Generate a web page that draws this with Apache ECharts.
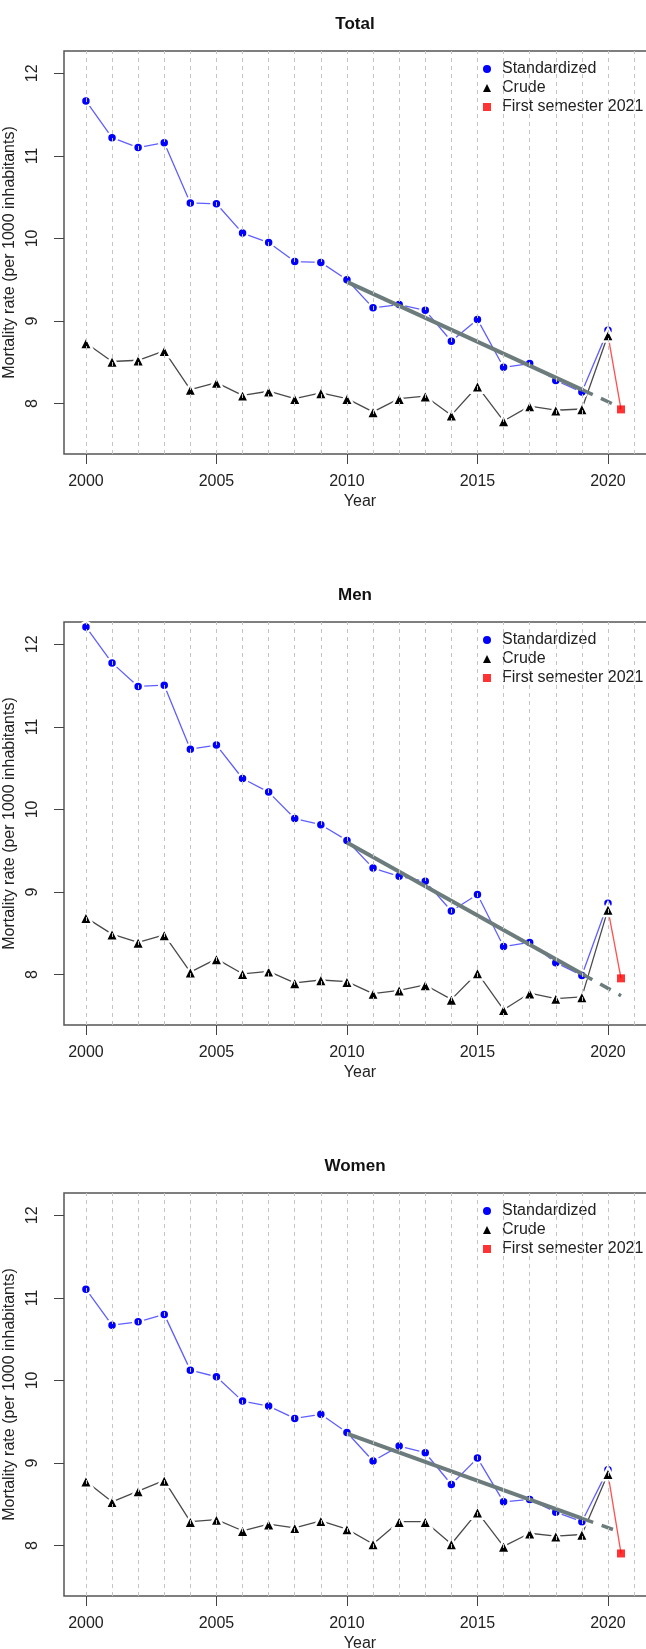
<!DOCTYPE html>
<html>
<head>
<meta charset="utf-8">
<script src="https://cdn.jsdelivr.net/npm/echarts@6/dist/echarts.min.js"></script>
<style>
  html, body { margin: 0; padding: 0; background: #fff; }
  #chart { width: 646px; height: 1649px; }
</style>
</head>
<body>
<div id="chart"></div>
<script>
// years and axis ticks
var years = [2000, 2001, 2002, 2003, 2004, 2005, 2006, 2007, 2008, 2009, 2010,
             2011, 2012, 2013, 2014, 2015, 2016, 2017, 2018, 2019, 2020];
var gridYears = [2000, 2001, 2002, 2003, 2004, 2005, 2006, 2007, 2008, 2009, 2010,
                 2011, 2012, 2013, 2014, 2015, 2016, 2017, 2018, 2019, 2020, 2021];
var xTicks = [2000, 2005, 2010, 2015, 2020];
var yTicks = [8, 9, 10, 11, 12];
var panelTitles = ['Total', 'Men', 'Women'];

// mortality rates (per 1000 inhabitants)
var totalStandardized = [11.665, 11.22, 11.10, 11.16, 10.43, 10.42, 10.065, 9.95, 9.72, 9.71, 9.50,
                         9.16, 9.20, 9.13, 8.755, 9.02, 8.44, 8.485, 8.28, 8.14, 8.89];
var totalCrude = [8.735, 8.51, 8.525, 8.64, 8.17, 8.255, 8.10, 8.15, 8.06, 8.13, 8.06,
                  7.90, 8.06, 8.09, 7.86, 8.21, 7.79, 7.97, 7.92, 7.935, 8.83];
var menStandardized = [12.21, 11.775, 11.49, 11.505, 10.73, 10.78, 10.375, 10.21, 9.89, 9.815, 9.625,
                       9.29, 9.19, 9.13, 8.77, 8.97, 8.34, 8.39, 8.145, 7.99, 8.865];
var menCrude = [8.69, 8.49, 8.39, 8.48, 8.03, 8.19, 8.01, 8.04, 7.90, 7.935, 7.915,
                7.77, 7.81, 7.875, 7.70, 8.02, 7.575, 7.775, 7.71, 7.73, 8.79];
var womenStandardized = [11.105, 10.67, 10.71, 10.80, 10.125, 10.045, 9.75, 9.69, 9.54, 9.59, 9.37,
                         9.025, 9.205, 9.125, 8.74, 9.06, 8.53, 8.56, 8.405, 8.29, 8.92];
var womenCrude = [8.78, 8.53, 8.66, 8.79, 8.29, 8.315, 8.18, 8.26, 8.215, 8.30, 8.20,
                  8.02, 8.29, 8.29, 8.02, 8.405, 7.99, 8.15, 8.115, 8.135, 8.87];

// first semester 2021 (crude), plotted half a year after 2020
var semesterYear = 2020.5;
var firstSemester2021 = [7.93, 7.955, 7.905];

// linear trend 2010-2019 and its extension
var trendYears = [2010, 2019, 2020.5];
var totalTrend = [9.475, 8.17, 7.95];
var menTrend = [9.60, 8.01, 7.745];
var womenTrend = [9.355, 8.33, 8.16];

var panelStd = [totalStandardized, menStandardized, womenStandardized];
var panelCrude = [totalCrude, menCrude, womenCrude];
var panelTrend = [totalTrend, menTrend, womenTrend];
var panelTops = [51, 622, 1193];

var FONT = "'Liberation Sans', Arial, Helvetica, sans-serif";

function pairs(xs, ys) {
    return xs.map(function(x, i) { return [x, ys[i]]; });
}

var grids = [], xAxes = [], yAxes = [], titles = [], legends = [], series = [];

for (var p = 0; p < 3; p++) {
    var gTop = panelTops[p];
    grids.push({
        left: 64, top: gTop, width: 592, height: 403,
        show: true, borderColor: '#555', borderWidth: 1.5,
        outerBoundsMode: 'none'
    });
    xAxes.push({
        type: 'value', gridIndex: p, min: 1999.16, max: 2021.84,
        name: 'Year', nameLocation: 'middle', nameGap: 40,
        nameTextStyle: { color: '#222', fontSize: 16, fontFamily: FONT },
        axisLine: { show: false, onZero: false },
        axisTick: { show: true, length: 10, customValues: xTicks, lineStyle: { color: '#444', width: 1 } },
        axisLabel: { customValues: xTicks, margin: 20, color: '#222', fontSize: 16, fontFamily: FONT,
                     formatter: function(v) { return String(v); } },
        splitLine: { show: false }
    });
    yAxes.push({
        type: 'value', gridIndex: p, min: 7.39, max: 12.27,
        name: 'Mortality rate (per 1000 inhabitants)', nameLocation: 'middle', nameGap: 23,
        nameTextStyle: { color: '#222', fontSize: 16, fontFamily: FONT },
        axisLine: { show: false, onZero: false },
        axisTick: { show: true, length: 10, customValues: yTicks, lineStyle: { color: '#444', width: 1 } },
        axisLabel: { customValues: yTicks, rotate: 90, margin: 23, color: '#222', fontSize: 16, fontFamily: FONT },
        splitLine: { show: false }
    });
    titles.push({
        text: panelTitles[p], left: 350, top: gTop - 40, textAlign: 'center',
        textStyle: { fontSize: 17, fontWeight: 'bold', color: '#111', fontFamily: FONT }
    });
    legends.push({
        orient: 'vertical', left: 483, top: gTop + 10, padding: 0,
        itemWidth: 8, itemHeight: 8, itemGap: 3, selectedMode: false,
        itemStyle: { borderWidth: 0 },
        textStyle: { color: '#222', fontSize: 16, fontFamily: FONT, padding: [0, 0, 0, 6] },
        data: [
            { name: 'Standardized', icon: 'circle' },
            { name: 'Crude', icon: 'triangle' },
            { name: 'First semester 2021', icon: 'rect' }
        ]
    });

    // vertical dashed guides at each year
    series.push({
        name: 'guides', type: 'line', xAxisIndex: p, yAxisIndex: p, data: [],
        silent: true, z: 1,
        markLine: {
            silent: true, symbol: ['none', 'none'], label: { show: false },
            lineStyle: { color: '#c4c4c4', type: [4, 4], width: 1 },
            data: gridYears.map(function(y) { return { xAxis: y }; })
        }
    });
    series.push({
        name: 'Standardized', type: 'line', xAxisIndex: p, yAxisIndex: p,
        data: pairs(years, panelStd[p]),
        symbol: 'circle', symbolSize: 10, z: 3,
        itemStyle: { color: '#0000ff', borderColor: '#fff', borderWidth: 2.5 },
        lineStyle: { color: '#5f5fff', width: 1.3 }
    });
    series.push({
        name: 'Crude', type: 'line', xAxisIndex: p, yAxisIndex: p,
        data: pairs(years, panelCrude[p]),
        symbol: 'triangle', symbolSize: 13, z: 3,
        itemStyle: { color: '#000', borderColor: '#fff', borderWidth: 2.5 },
        lineStyle: { color: '#4a4a4a', width: 1.3 }
    });
    var tr = panelTrend[p];
    series.push({
        name: 'trend', type: 'line', xAxisIndex: p, yAxisIndex: p,
        data: pairs(trendYears.slice(0, 2), tr.slice(0, 2)),
        symbol: 'none', z: 4,
        lineStyle: { color: '#6c7c7c', width: 4 }
    });
    series.push({
        name: 'trend extension', type: 'line', xAxisIndex: p, yAxisIndex: p,
        data: pairs(trendYears.slice(1), tr.slice(1)),
        symbol: 'none', z: 4,
        lineStyle: { color: '#6c7c7c', width: 3.5, type: [12, 9] }
    });
    series.push({
        name: 'link', type: 'line', xAxisIndex: p, yAxisIndex: p,
        data: [[2020, panelCrude[p][20]], [semesterYear, firstSemester2021[p]]],
        symbol: 'none', z: 2,
        lineStyle: { color: '#ff5050', width: 1.3 }
    });
    series.push({
        name: 'First semester 2021', type: 'scatter', xAxisIndex: p, yAxisIndex: p,
        data: [[semesterYear, firstSemester2021[p]]],
        symbol: 'rect', symbolSize: 8, z: 5,
        itemStyle: { color: '#ff0000' }
    });
}

var chart = echarts.init(document.getElementById('chart'));
chart.setOption({
    animation: false,
    backgroundColor: '#fff',
    textStyle: { fontFamily: FONT },
    title: titles,
    legend: legends,
    grid: grids,
    xAxis: xAxes,
    yAxis: yAxes,
    series: series
});
</script>
</body>
</html>
